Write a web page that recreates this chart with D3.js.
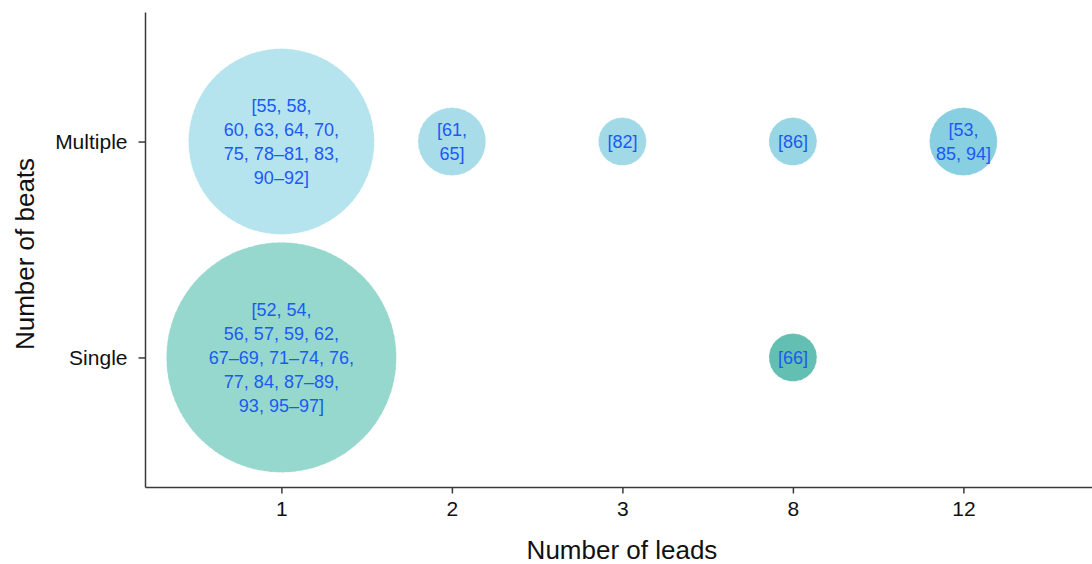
<!DOCTYPE html>
<html>
<head>
<meta charset="utf-8">
<script src="https://cdn.jsdelivr.net/npm/d3@7"></script>
<style>
  body { margin: 0; background: #fff; }
  svg { display: block; font-family: "Liberation Sans", Arial, sans-serif; }
</style>
</head>
<body>
<svg id="chart" width="1092" height="564"></svg>
<script>
// categories on both axes
const leadCats = ['1', '2', '3', '8', '12'];
const beatCats = ['Single', 'Multiple'];

// one entry per bubble
const bubbleLeads = ['1', '2', '3', '8', '12', '1', '8'];
const bubbleBeats = ['Multiple', 'Multiple', 'Multiple', 'Multiple', 'Multiple', 'Single', 'Single'];
const bubbleSize = [15, 2, 1, 1, 2, 23, 1];
const bubbleRefs = [
  ['[55, 58,', '60, 63, 64, 70,', '75, 78\u201381, 83,', '90\u201392]'],
  ['[61,', '65]'],
  ['[82]'],
  ['[86]'],
  ['[53,', '85, 94]'],
  ['[52, 54,', '56, 57, 59, 62,', '67\u201369, 71\u201374, 76,', '77, 84, 87\u201389,', '93, 95\u201397]'],
  ['[66]']
];

// fill shades, looked up by beats|leads
const fills = {
  'Multiple|1': '#b5e3ee',
  'Multiple|2': '#a8dce9',
  'Multiple|3': '#a1d9e7',
  'Multiple|8': '#98d5e5',
  'Multiple|12': '#88cfe2',
  'Single|1': '#96d8cd',
  'Single|8': '#62bfb1'
};

const svg = d3.select('#chart');

// x / y work on category index so the axes can run past the outer ticks
const x = d3.scaleLinear().domain([-0.8, 4.8]).range([145, 1099.8]);
const y = d3.scaleLinear().domain([-0.6, 1.6]).range([487, 12]);
const r = d3.scaleSqrt().domain([0, 1]).range([0, 24]);

const bubbles = bubbleLeads.map((l, i) => ({
  leads: l,
  beats: bubbleBeats[i],
  size: bubbleSize[i],
  refs: bubbleRefs[i]
}));

const g = svg.append('g');

g.selectAll('circle')
  .data(bubbles)
  .join('circle')
  .attr('cx', d => x(leadCats.indexOf(d.leads)))
  .attr('cy', d => y(beatCats.indexOf(d.beats)))
  .attr('r', d => r(d.size))
  .attr('fill', d => fills[d.beats + '|' + d.leads])
  .attr('stroke', '#ffffff')
  .attr('stroke-opacity', 0.45)
  .attr('stroke-width', 1)
  .attr('stroke-dasharray', '4 2');

const lineH = 24;
const labels = g.selectAll('text.refs')
  .data(bubbles)
  .join('text')
  .attr('class', 'refs')
  .attr('text-anchor', 'middle')
  .attr('font-size', 18)
  .attr('fill', '#1a5af5')
  .attr('x', d => x(leadCats.indexOf(d.leads)))
  .attr('y', d => y(beatCats.indexOf(d.beats)));

labels.selectAll('tspan')
  .data(d => d.refs.map((t, j) => ({ t, j, n: d.refs.length, cx: x(leadCats.indexOf(d.leads)) })))
  .join('tspan')
  .attr('x', d => d.cx)
  .attr('dy', d => d.j === 0 ? (-(d.n - 1) / 2 * lineH + 6.5) : lineH)
  .text(d => d.t);

// axes
const xAxis = d3.axisBottom(x)
  .tickValues(d3.range(leadCats.length))
  .tickFormat(i => leadCats[i])
  .tickSize(6.5)
  .tickSizeOuter(0)
  .tickPadding(8);

const yAxis = d3.axisLeft(y)
  .tickValues(d3.range(beatCats.length))
  .tickFormat(i => beatCats[i])
  .tickSize(6.5)
  .tickSizeOuter(0)
  .tickPadding(11);

const gx = svg.append('g').attr('transform', 'translate(0,487)').call(xAxis);
const gy = svg.append('g').attr('transform', 'translate(145,0)').call(yAxis);

[gx, gy].forEach(a => {
  a.selectAll('path, line').attr('stroke', '#3a3a3a').attr('stroke-width', 1.5);
  a.selectAll('text').attr('font-size', 21).attr('fill', '#111')
    .attr('font-family', '"Liberation Sans", Arial, sans-serif');
});

svg.append('text')
  .attr('x', 622)
  .attr('y', 559)
  .attr('text-anchor', 'middle')
  .attr('font-size', 26)
  .attr('fill', '#111')
  .text('Number of leads');

svg.append('text')
  .attr('transform', 'translate(34,254) rotate(-90)')
  .attr('text-anchor', 'middle')
  .attr('font-size', 26)
  .attr('fill', '#111')
  .text('Number of beats');
</script>
</body>
</html>
